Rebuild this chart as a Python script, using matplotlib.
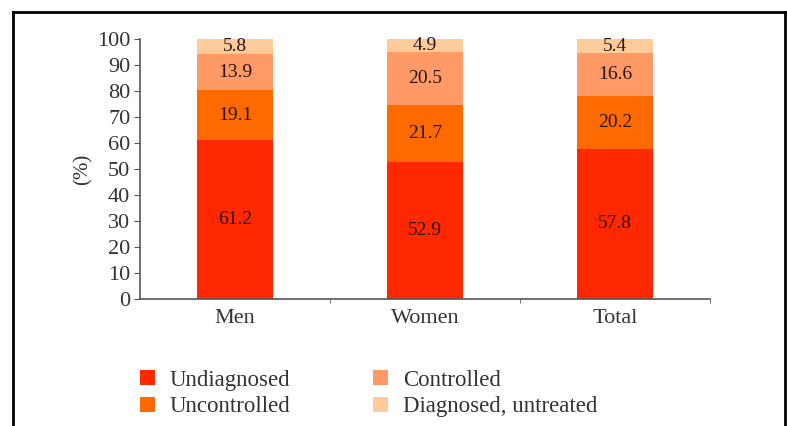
import matplotlib
matplotlib.use("Agg")
import matplotlib.pyplot as plt
from matplotlib.lines import Line2D
import numpy as np

groups = ["Men", "Women", "Total"]
undiagnosed = [61.2, 52.9, 57.8]
uncontrolled = [19.1, 21.7, 20.2]
controlled = [13.9, 20.5, 16.6]
untreated = [5.8, 4.9, 5.4]

series = [
    ("Undiagnosed", undiagnosed, "#ff2800"),
    ("Uncontrolled", uncontrolled, "#ff6a00"),
    ("Controlled", controlled, "#ff9a66"),
    ("Diagnosed, untreated", untreated, "#ffcb9a"),
]

plt.rcParams["font.family"] = ["Liberation Serif", "DejaVu Serif"]

fig = plt.figure(figsize=(7.87, 4.26), dpi=100)
ax = fig.add_axes([0.178, 0.298, 0.724, 0.61])

x = np.arange(len(groups))
bottom = np.zeros(len(groups))
handles = []
for name, vals, color in series:
    vals = np.array(vals)
    bars = ax.bar(x, vals, width=0.4, bottom=bottom, color=color,
                  edgecolor="none", label=name)
    handles.append(bars)
    for xi, b, v in zip(x, bottom, vals):
        ax.text(xi, b + v / 2, f"{v:.1f}", ha="center", va="center",
                fontsize=14, color="#2a1410")
    bottom += vals

ax.set_xlim(-0.5, 2.5)
ax.set_ylim(0, 100)
ax.set_yticks(range(0, 101, 10))
ax.set_xticks(x)
ax.set_xticklabels(groups)
ax.set_xticks([0.5, 1.5, 2.5], minor=True)
ax.tick_params(axis="x", which="major", length=0, pad=7, labelsize=16, colors="#333333")
ax.tick_params(axis="x", which="minor", length=3, color="#555555")
ax.tick_params(axis="y", length=4, pad=3, labelsize=16, color="#555555", labelcolor="#333333")
ax.set_ylabel("(%)", fontsize=15, color="#333333", labelpad=3)
for s in ["top", "right"]:
    ax.spines[s].set_visible(False)
for s in ["left", "bottom"]:
    ax.spines[s].set_color("#555555")
    ax.spines[s].set_linewidth(1.2)

fig.legend(handles=handles, loc="upper left", bbox_to_anchor=(0.178, 0.132),
           ncol=2, frameon=False, fontsize=16.5, handlelength=0.65,
           handleheight=0.65, handletextpad=0.65, columnspacing=3.6,
           labelspacing=0.25, borderpad=0, borderaxespad=0,
           labelcolor="#333333")

# frame around the figure (top, left, right)
for xs, ys in [([0.017, 0.998], [0.972, 0.972]),
               ([0.017, 0.017], [0.0, 0.972]),
               ([0.998, 0.998], [0.0, 0.972])]:
    fig.add_artist(Line2D(xs, ys, color="black", linewidth=2))

fig.savefig("out.png", dpi=100)
